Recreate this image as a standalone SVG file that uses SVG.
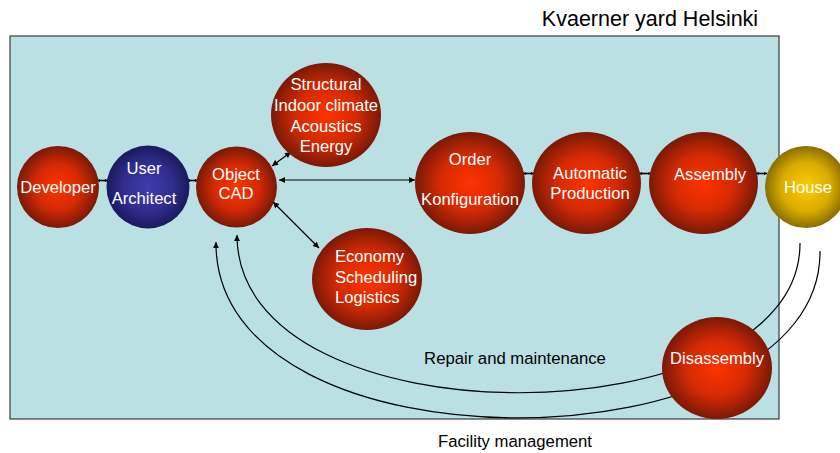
<svg xmlns="http://www.w3.org/2000/svg" width="840" height="453" viewBox="0 0 840 453">
<defs>
<radialGradient id="red" cx="50%" cy="50%" r="50%">
<stop offset="0" stop-color="#FF3300"/>
<stop offset="0.55" stop-color="#D52A04"/>
<stop offset="1" stop-color="#7A1906"/>
</radialGradient>
<radialGradient id="navy" cx="50%" cy="50%" r="50%">
<stop offset="0" stop-color="#3D3DAE"/>
<stop offset="0.6" stop-color="#2E2E8E"/>
<stop offset="1" stop-color="#1A1A5C"/>
</radialGradient>
<radialGradient id="gold" cx="50%" cy="50%" r="50%">
<stop offset="0" stop-color="#FFCC00"/>
<stop offset="0.6" stop-color="#D9AC00"/>
<stop offset="1" stop-color="#8A6E00"/>
</radialGradient>
<marker id="a" viewBox="0 0 10 10" refX="10" refY="5" markerWidth="8" markerHeight="6" markerUnits="userSpaceOnUse" orient="auto-start-reverse">
<path d="M0,0 L10,5 L0,10 z" fill="#000"/>
</marker>
<marker id="s" viewBox="0 0 10 10" refX="10" refY="5" markerWidth="3" markerHeight="6" markerUnits="userSpaceOnUse" orient="auto-start-reverse">
<path d="M0,0 L10,5 L0,10 z" fill="#000"/>
</marker>
<style>
.w { fill:#FFFFFF; font-family:"Liberation Sans", Arial, sans-serif; font-size:16.6px; text-anchor:middle; }
.b { fill:#000000; font-family:"Liberation Sans", Arial, sans-serif; font-size:16.7px; text-anchor:middle; }
.c { fill:none; stroke:#000; stroke-width:1.2; }
.k { fill:none; stroke:#000; stroke-width:1.6; }
.r { fill:url(#red); }
</style>
</defs>
<rect x="10" y="36" width="769" height="383" fill="#BAE0E4" stroke="#3A3A3A" stroke-width="1.2"/>
<text class="b" x="650" y="26" style="font-size:21.5px">Kvaerner yard Helsinki</text>
<text class="b" x="515" y="364">Repair and maintenance</text>
<text class="b" x="515" y="447">Facility management</text>

<g id="connectors">
<line class="k" x1="97" y1="180.5" x2="108" y2="180.5" marker-start="url(#s)" marker-end="url(#s)"/>
<line class="k" x1="187" y1="180.5" x2="198" y2="180.5" marker-start="url(#s)" marker-end="url(#s)"/>
<line class="k" x1="523" y1="173.5" x2="534" y2="173.5" marker-start="url(#s)" marker-end="url(#s)"/>
<line class="k" x1="639" y1="173.5" x2="651" y2="173.5" marker-start="url(#s)" marker-end="url(#s)"/>
<line class="k" x1="756" y1="173.5" x2="767" y2="173.5" marker-start="url(#s)" marker-end="url(#s)"/>
<line class="c" x1="279" y1="180" x2="415" y2="180" marker-start="url(#a)" marker-end="url(#a)"/>
<line class="c" x1="272" y1="166" x2="291" y2="152" marker-start="url(#a)" marker-end="url(#a)"/>
<line class="c" x1="273" y1="202" x2="319" y2="248" marker-start="url(#a)" marker-end="url(#a)"/>
<path class="c" d="M800,243 C801,440 237,448 237,235" marker-end="url(#a)"/>
<path class="c" d="M820,251 C822,470 214,480 216,242" marker-end="url(#a)"/>
</g>

<g id="developer">
<circle cx="58" cy="187" r="41" class="r"/>
<text class="w" x="58" y="193">Developer</text>
</g>
<g id="user-architect">
<circle cx="148" cy="187" r="41.5" fill="url(#navy)"/>
<text class="w" x="144" y="174">User</text>
<text class="w" x="144" y="204">Architect</text>
</g>
<g id="object-cad">
<circle cx="236.5" cy="187" r="40.5" class="r"/>
<text class="w" x="236" y="180">Object</text>
<text class="w" x="236" y="199">CAD</text>
</g>
<g id="structural">
<ellipse cx="326" cy="115" rx="55" ry="52" class="r"/>
<text class="w" x="326" y="90">Structural</text>
<text class="w" x="326" y="111">Indoor climate</text>
<text class="w" x="326" y="132">Acoustics</text>
<text class="w" x="326" y="152">Energy</text>
</g>
<g id="economy">
<ellipse cx="367" cy="279" rx="55" ry="51" class="r"/>
<text class="w" x="335" y="262" style="text-anchor:start">Economy</text>
<text class="w" x="335" y="283" style="text-anchor:start">Scheduling</text>
<text class="w" x="335" y="303" style="text-anchor:start">Logistics</text>
</g>
<g id="order">
<ellipse cx="470" cy="183" rx="55" ry="51" class="r"/>
<text class="w" x="470" y="165">Order</text>
<text class="w" x="470" y="205">Konfiguration</text>
</g>
<g id="automatic-production">
<ellipse cx="586.5" cy="183" rx="54.5" ry="51" class="r"/>
<text class="w" x="590" y="179">Automatic</text>
<text class="w" x="590" y="199">Production</text>
</g>
<g id="assembly">
<ellipse cx="703.5" cy="183" rx="54.5" ry="51" class="r"/>
<text class="w" x="710" y="180">Assembly</text>
</g>
<g id="house">
<circle cx="806" cy="187" r="41" fill="url(#gold)"/>
<text class="w" x="808" y="193">House</text>
</g>
<g id="disassembly">
<ellipse cx="717" cy="368" rx="55" ry="51" class="r"/>
<text class="w" x="717" y="364">Disassembly</text>
</g>
</svg>
